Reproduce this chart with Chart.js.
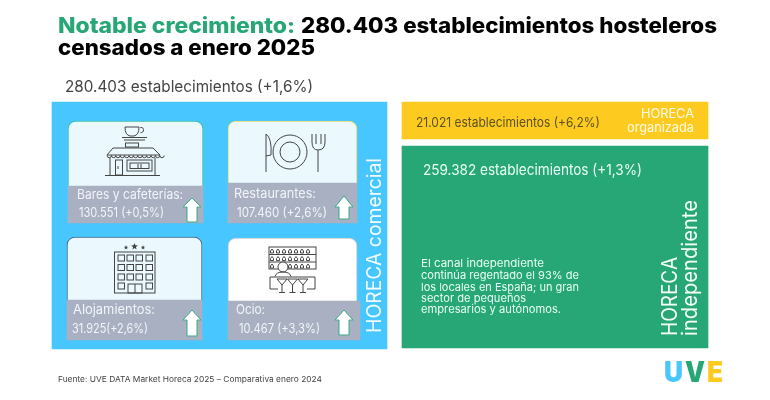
<!DOCTYPE html>
<html lang="es">
<head>
<meta charset="utf-8">
<title>Notable crecimiento</title>
<style>
  html, body { margin: 0; padding: 0; background: #fff; }
  canvas { display: block; }
</style>
</head>
<body>
<canvas id="censo" width="770" height="400"></canvas>
<script src="https://cdn.jsdelivr.net/npm/chart.js@4"></script>
<script>
// Datos
const totalValue = 280403;
const totalDelta = 1.6;
const categories = ['Bares y cafeterías:', 'Restaurantes:', 'Alojamientos:', 'Ocio:'];
const categoryValues = [130551, 107460, 31925, 10467];
const categoryDeltas = [0.5, 2.6, 2.6, 3.3];
const categoryGaps = [' ', ' ', '', ' '];
const channelValues = [21021, 259382];
const channelDeltas = [6.2, 1.3];

const GREEN = '#28a776';
const BLUE = '#47c6ff';
const YELLOW = '#fdca1f';
const GREY = '#a9b0c2';
const INK = '#444';
const FONT = 'Inter, "Open Sans", sans-serif';

// Cajas del infografico: [izq, der, arriba, abajo, color, borde, radio]
const panels = [
    [52, 387, 102, 349, BLUE, BLUE, 0],
    [402, 708, 102, 139, YELLOW, YELLOW, 0],
    [402, 708, 146, 348, GREEN, GREEN, 0],
    [68, 203, 121, 187, '#ebf9ff', '#3fc0a0', 8],
    [228, 357, 121, 184, '#ebf9ff', '#e4d96a', 8],
    [67, 202, 237, 301, '#ebf9ff', '#3f6c8c', 8],
    [228, 357, 238, 302, '#ffffff', '#c8ccd4', 8],
    [68, 203, 186, 223, GREY, GREY, 0],
    [228, 357, 183, 223, GREY, GREY, 0],
    [67, 202, 300, 340, GREY, GREY, 0],
    [228, 360, 301, 340, GREY, GREY, 0]
];

const fmtNum = (v) => String(v).replace(/\B(?=(\d{3})+$)/g, '.');
const fmtDelta = (d) => '+' + d.toFixed(1).replace('.', ',') + '%';
const withDelta = (v, d, gap = ' ') => fmtNum(v) + gap + '(' + fmtDelta(d) + ')';

// Texto ajustado al ancho medido en la referencia
function label(ctx, str, x, y, width, font, color, rotated) {
    ctx.save();
    ctx.font = font;
    ctx.fillStyle = color;
    ctx.textBaseline = 'alphabetic';
    ctx.translate(x, y);
    if (rotated) ctx.rotate(-Math.PI / 2);
    ctx.scale(width / ctx.measureText(str).width, 1);
    ctx.fillText(str, 0, 0);
    ctx.restore();
}

function line(ctx, pts) {
    ctx.beginPath();
    pts.forEach((p, i) => (i ? ctx.lineTo(p[0], p[1]) : ctx.moveTo(p[0], p[1])));
    ctx.stroke();
}

function arrow(ctx, cx, tip, base, bottom) {
    ctx.save();
    ctx.fillStyle = '#fff';
    ctx.strokeStyle = '#3aab84';
    ctx.lineWidth = 1;
    ctx.beginPath();
    ctx.moveTo(cx, tip);
    ctx.lineTo(cx + 9, base);
    ctx.lineTo(cx + 5, base);
    ctx.lineTo(cx + 5, bottom);
    ctx.lineTo(cx - 5, bottom);
    ctx.lineTo(cx - 5, base);
    ctx.lineTo(cx - 9, base);
    ctx.closePath();
    ctx.fill();
    ctx.stroke();
    ctx.restore();
}

function iconShop(ctx) {
    // taza
    ctx.beginPath();
    ctx.moveTo(125, 127);
    ctx.lineTo(139, 127);
    ctx.quadraticCurveTo(139, 135, 134, 136);
    ctx.lineTo(130, 136);
    ctx.quadraticCurveTo(125, 135, 125, 127);
    ctx.stroke();
    ctx.beginPath();
    ctx.arc(141, 130, 2.6, -1.8, 1.8);
    ctx.stroke();
    line(ctx, [[122, 137.5], [147, 137.5]]);
    line(ctx, [[124, 140], [145, 140]]);
    // rotulo y toldo
    ctx.strokeRect(125.5, 143, 13, 4);
    line(ctx, [[113, 148], [153, 148], [160, 155], [107, 155], [113, 148]]);
    for (let x = 107; x < 160; x += 4.4) {
        ctx.beginPath();
        ctx.arc(x + 2.2, 155.5, 2.2, 0, Math.PI);
        ctx.stroke();
    }
    // fachada
    line(ctx, [[110, 158], [110, 175]]);
    line(ctx, [[155, 158], [155, 175]]);
    line(ctx, [[105, 175.5], [160, 175.5]]);
    ctx.strokeRect(115.5, 160, 7, 15);
    ctx.strokeRect(127, 160, 25, 11);
    ctx.strokeRect(130, 163, 19, 5.5);
    line(ctx, [[138, 164], [138, 168]]);
    line(ctx, [[141, 164], [141, 168]]);
    line(ctx, [[118, 166], [118, 169]]);
}

function iconPlate(ctx) {
    ctx.beginPath();
    ctx.arc(290, 152, 17, 0, Math.PI * 2);
    ctx.stroke();
    ctx.beginPath();
    ctx.arc(290, 152, 10, 0, Math.PI * 2);
    ctx.stroke();
    // cuchillo
    ctx.beginPath();
    ctx.moveTo(266, 172);
    ctx.lineTo(266, 134);
    ctx.quadraticCurveTo(272, 138, 271, 155);
    ctx.lineTo(266, 156);
    ctx.stroke();
    // tenedor
    line(ctx, [[318, 172], [318, 150]]);
    ctx.beginPath();
    ctx.moveTo(312, 134);
    ctx.lineTo(312, 142);
    ctx.quadraticCurveTo(312, 150, 318, 150);
    ctx.quadraticCurveTo(325, 150, 325, 142);
    ctx.lineTo(325, 134);
    ctx.stroke();
    line(ctx, [[316, 134], [316, 144]]);
    line(ctx, [[321, 134], [321, 144]]);
}

function star(ctx, cx, cy, r) {
    ctx.beginPath();
    for (let i = 0; i < 10; i++) {
        const a = -Math.PI / 2 + i * Math.PI / 5;
        const q = i % 2 ? r * 0.42 : r;
        ctx.lineTo(cx + Math.cos(a) * q, cy + Math.sin(a) * q);
    }
    ctx.closePath();
    ctx.fill();
}

function iconHotel(ctx) {
    ctx.strokeRect(114.5, 252, 40.5, 41);
    star(ctx, 126, 247.5, 2.4);
    star(ctx, 134.5, 246.5, 3.6);
    star(ctx, 143, 247.5, 2.4);
    [118, 127, 136, 146].forEach((x) => {
        [255, 264.5, 274].forEach((y) => ctx.strokeRect(x, y, 6.5, 6));
    });
    ctx.strokeRect(118, 283, 6.5, 6);
    ctx.strokeRect(146, 283, 6.5, 6);
    ctx.strokeRect(128, 284, 14, 9);
    line(ctx, [[135, 284], [135, 293]]);
}

function iconBar(ctx) {
    ctx.strokeRect(269, 247, 47, 22);
    line(ctx, [[269, 254.5], [316, 254.5]]);
    line(ctx, [[269, 262], [316, 262]]);
    [252, 259.5, 267].forEach((y) => {
        for (let x = 272; x < 314; x += 6) {
            if (y > 262 && x > 277 && x < 290) continue;
            ctx.beginPath();
            ctx.moveTo(x - 1.5, y + 1);
            ctx.lineTo(x - 1.5, y - 1);
            ctx.lineTo(x, y - 3);
            ctx.lineTo(x + 1.5, y - 1);
            ctx.lineTo(x + 1.5, y + 1);
            ctx.closePath();
            ctx.stroke();
        }
    });
    // camarero
    ctx.save();
    ctx.fillStyle = '#fff';
    ctx.beginPath();
    ctx.arc(283, 267, 5, 0, Math.PI * 2);
    ctx.fill();
    ctx.stroke();
    ctx.restore();
    ctx.beginPath();
    ctx.moveTo(275, 276.5);
    ctx.quadraticCurveTo(276, 272, 283, 272);
    ctx.quadraticCurveTo(290, 272, 291, 276.5);
    ctx.stroke();
    // barra y copas
    line(ctx, [[270, 277], [315, 277]]);
    line(ctx, [[270, 277], [270, 289]]);
    line(ctx, [[315, 277], [315, 289]]);
    line(ctx, [[270, 289], [278, 289]]);
    line(ctx, [[307, 289], [315, 289]]);
    [282, 292.5, 303].forEach((x) => {
        line(ctx, [[x - 5, 279], [x + 5, 279], [x, 285], [x - 5, 279]]);
        line(ctx, [[x, 285], [x, 292]]);
        line(ctx, [[x - 3, 292.5], [x + 3, 292.5]]);
    });
}

const textPlugin = {
    id: 'textos',
    afterDatasetsDraw(chart) {
        const ctx = chart.ctx;

        // titulo
        label(ctx, 'Notable crecimiento:', 58, 33, 237, '800 21px ' + FONT, GREEN);
        label(ctx, '280.403 establecimientos hosteleros', 301, 33, 416, '800 21px ' + FONT, '#000');
        label(ctx, 'censados a enero 2025', 58, 55, 257, '800 21px ' + FONT, '#000');
        label(ctx, withDelta(totalValue, totalDelta).replace('(', 'establecimientos ('), 65, 92, 248, '400 15.5px ' + FONT, INK);

        // tarjetas
        const nameAt = [[77, 199, 106], [234, 198, 82], [73, 314, 82], [236, 314, 29]];
        const valueAt = [[79, 217, 85], [237, 217, 90], [72, 333, 76], [239, 333, 81]];
        categories.forEach((name, i) => {
            label(ctx, name, nameAt[i][0], nameAt[i][1], nameAt[i][2], '400 13px ' + FONT, '#f2f5fa');
            const txt = withDelta(categoryValues[i], categoryDeltas[i], categoryGaps[i]);
            label(ctx, txt, valueAt[i][0], valueAt[i][1], valueAt[i][2], '400 13px ' + FONT, '#f2f5fa');
        });
        arrow(ctx, 192, 198, 207, 222);
        arrow(ctx, 344, 196, 207, 219);
        arrow(ctx, 192, 310, 320, 336);
        arrow(ctx, 344, 310, 320, 335);

        ctx.save();
        ctx.strokeStyle = INK;
        ctx.fillStyle = INK;
        ctx.lineWidth = 1;
        iconShop(ctx);
        iconPlate(ctx);
        iconHotel(ctx);
        iconBar(ctx);
        ctx.restore();

        // canales
        label(ctx, 'HORECA comercial', 381, 333, 175, '400 20px ' + FONT, '#f4fbff', true);
        label(ctx, fmtNum(channelValues[0]) + ' establecimientos (' + fmtDelta(channelDeltas[0]) + ')', 416, 127, 184, '400 13px ' + FONT, '#5c5126');
        label(ctx, 'HORECA', 641, 118, 53, '400 13px ' + FONT, '#fffbe8');
        label(ctx, 'organizada', 627, 132, 67, '400 13px ' + FONT, '#fffbe8');
        label(ctx, fmtNum(channelValues[1]) + ' establecimientos (' + fmtDelta(channelDeltas[1]) + ')', 423, 175, 219, '400 15px ' + FONT, '#e9fff6');

        const para = [
            ['El canal independiente', 123],
            ['continúa regentado el 93% de', 158],
            ['los locales en España; un gran', 158],
            ['sector de pequeños', 105],
            ['empresarios y autónomos.', 140]
        ];
        para.forEach((row, i) => {
            label(ctx, row[0], 421, [267, 279, 291, 302, 313][i], row[1], '400 11px ' + FONT, '#e9fff6');
        });
        label(ctx, 'HORECA', 677, 336, 79, '400 21px ' + FONT, '#f4fff9', true);
        label(ctx, 'independiente', 697, 336, 136, '400 21px ' + FONT, '#f4fff9', true);

        // pie y logo
        label(ctx, 'Fuente: UVE DATA Market Horeca 2025 – Comparativa enero 2024', 58, 382, 264, '400 8px ' + FONT, INK);
        label(ctx, 'U', 664, 382, 19, '900 28px ' + FONT, BLUE);
        label(ctx, 'V', 685, 382, 20, '900 28px ' + FONT, GREEN);
        label(ctx, 'E', 707, 382, 16, '900 28px ' + FONT, YELLOW);
    }
};

new Chart(document.getElementById('censo'), {
    type: 'bar',
    data: {
        datasets: panels.map((p, i) => ({
            data: [{ x: (p[0] + p[1]) / 2, y: [p[2], p[3]] }],
            barThickness: p[1] - p[0],
            grouped: false,
            backgroundColor: p[4],
            borderColor: p[5],
            borderWidth: p[6] ? 1 : 0,
            borderSkipped: false,
            borderRadius: { topLeft: p[6], topRight: p[6], bottomLeft: 0, bottomRight: 0 },
            order: panels.length - i
        }))
    },
    options: {
        responsive: false,
        animation: false,
        layout: { padding: 0 },
        plugins: {
            legend: { display: false },
            tooltip: { enabled: false }
        },
        scales: {
            x: { type: 'linear', offset: false, min: 0, max: 770, display: false },
            y: { type: 'linear', min: 0, max: 400, reverse: true, display: false }
        }
    },
    plugins: [textPlugin]
});
</script>
</body>
</html>
